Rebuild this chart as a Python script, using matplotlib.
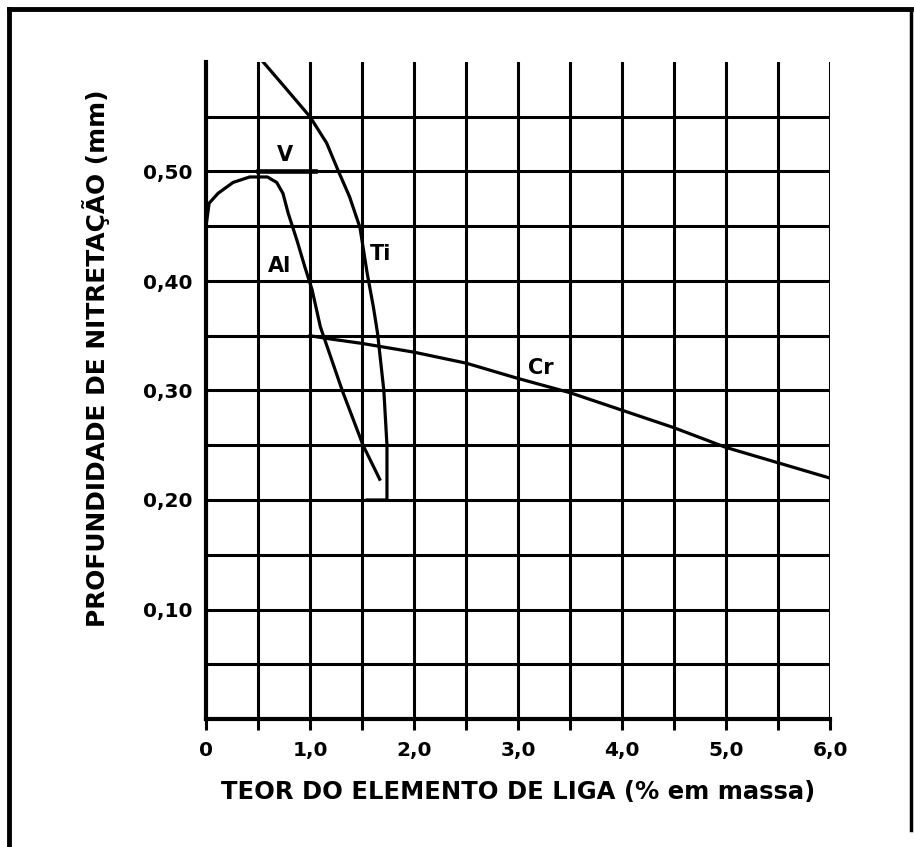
import matplotlib
matplotlib.use("Agg")
import matplotlib.pyplot as plt
from matplotlib.lines import Line2D
import numpy as np

plt.rcParams['font.family'] = ['DejaVu Sans']
plt.rcParams['font.weight'] = 'bold'

# Data
ti_x = [0.55, 0.74, 1.00, 1.16, 1.27, 1.38, 1.48, 1.55, 1.61, 1.65, 1.71, 1.74, 1.74, 1.55]
ti_y = [0.600, 0.579, 0.550, 0.526, 0.501, 0.477, 0.449, 0.407, 0.376, 0.352, 0.300, 0.250, 0.200, 0.200]

al_x = [0.00, 0.03, 0.115, 0.26, 0.42, 0.59, 0.68, 0.74, 0.79, 0.875, 0.95, 1.02, 1.10, 1.31, 1.51, 1.67]
al_y = [0.450, 0.471, 0.480, 0.490, 0.495, 0.495, 0.490, 0.480, 0.462, 0.437, 0.413, 0.392, 0.358, 0.300, 0.250, 0.219]

v_x = [0.50, 1.05]
v_y = [0.500, 0.500]

cr_x = [1.00, 1.20, 1.50, 2.00, 2.50, 3.00, 3.50, 4.00, 4.50, 5.00, 5.50, 6.00]
cr_y = [0.350, 0.347, 0.343, 0.335, 0.325, 0.311, 0.298, 0.282, 0.266, 0.248, 0.234, 0.220]

labels = ["V", "Al", "Ti", "Cr"]
label_x = [0.76, 0.71, 1.68, 3.22]
label_y = [0.515, 0.414, 0.425, 0.321]

x_ticks = [0, 1, 2, 3, 4, 5, 6]
x_ticklabels = ["0", "1,0", "2,0", "3,0", "4,0", "5,0", "6,0"]
y_ticks = [0.1, 0.2, 0.3, 0.4, 0.5]
y_ticklabels = ["0,10", "0,20", "0,30", "0,40", "0,50"]

xlabel = "TEOR DO ELEMENTO DE LIGA (% em massa)"
ylabel = "PROFUNDIDADE DE NITRETAÇÃO (mm)"

fig = plt.figure(figsize=(9.14, 8.47), dpi=100)
ax = fig.add_axes([206/914, 1-719/847, (830-206)/914, (719-62)/847])

lw_grid = 2.2
for xv in np.arange(0.5, 6.01, 0.5):
    ax.axvline(xv, color='black', lw=lw_grid, zorder=1)
for yv in np.arange(0.05, 0.551, 0.05):
    ax.axhline(yv, color='black', lw=lw_grid, zorder=1)

lw_c = 2.3
ax.plot(ti_x, ti_y, color='black', lw=lw_c, zorder=3)
ax.plot(al_x, al_y, color='black', lw=lw_c, zorder=3)
ax.plot(v_x, v_y, color='black', lw=lw_c + 1.0, zorder=3)
ax.plot(cr_x, cr_y, color='black', lw=lw_c, zorder=3)

for t, lx, ly in zip(labels, label_x, label_y):
    ax.text(lx, ly, t, fontsize=15, fontweight='bold', ha='center', va='center',
            color='black', zorder=4)

ax.set_xlim(0, 6)
ax.set_ylim(0, 0.6)
for s in ['top', 'right']:
    ax.spines[s].set_visible(False)
ax.spines['left'].set_linewidth(3)
ax.spines['bottom'].set_linewidth(3)

ax.set_xticks(x_ticks)
ax.set_xticklabels(x_ticklabels, fontsize=14.5, fontweight='bold')
ax.set_xticks(np.arange(0.5, 6.01, 1.0), minor=True)
ax.tick_params(axis='x', which='both', direction='out', length=8, width=2.2, pad=8)
ax.set_yticks(y_ticks)
ax.set_yticklabels(y_ticklabels, fontsize=14.5, fontweight='bold')
ax.tick_params(axis='y', length=0, pad=10)

ax.set_xlabel(xlabel, fontsize=17.5, fontweight='bold', labelpad=14)
ax.set_ylabel(ylabel, fontsize=17.9, fontweight='bold')
ax.yaxis.set_label_coords(-0.154, 0.549)

# Outer frame
frame_kw = dict(color='black', lw=3.5, transform=fig.transFigure)
fig.add_artist(Line2D([9/914, 911/914], [1-9/847, 1-9/847], **frame_kw))
fig.add_artist(Line2D([9/914, 9/914], [0, 1-9/847], **frame_kw))
fig.add_artist(Line2D([911/914, 911/914], [0.02, 1-9/847], color='black', lw=2.5,
                      transform=fig.transFigure))

fig.savefig("out.png", dpi=100, facecolor='white')
